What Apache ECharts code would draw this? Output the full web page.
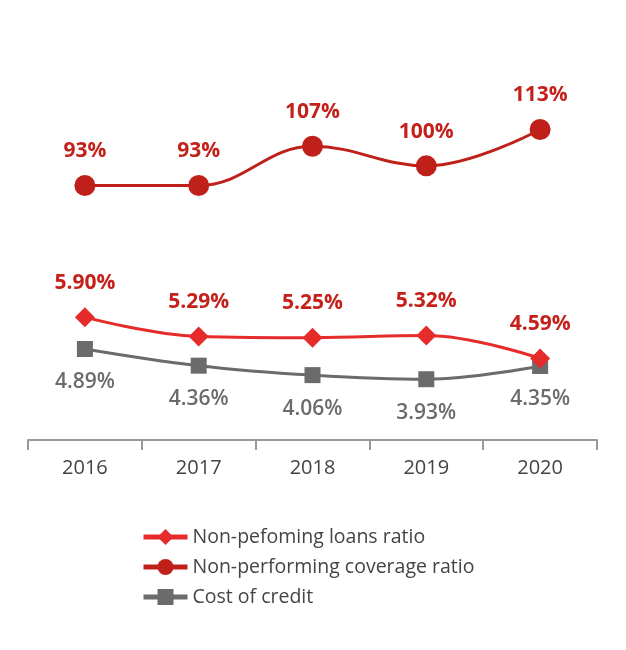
<!DOCTYPE html>
<html>
<head>
<meta charset="utf-8">
<style>html,body{margin:0;padding:0;background:#fff;}#c{width:626px;height:650px;}</style>
<script src="https://cdn.jsdelivr.net/npm/echarts@6/dist/echarts.min.js"></script>
</head>
<body>
<div id="c"></div>
<script>
var categories = ['2016', '2017', '2018', '2019', '2020'];
var nplRatio = [5.90, 5.29, 5.25, 5.32, 4.59];
var coverageRatio = [93, 93, 107, 100, 113];
var costOfCredit = [4.89, 4.36, 4.06, 3.93, 4.35];
var seriesNames = ['Non-pefoming loans ratio', 'Non-performing coverage ratio', 'Cost of credit'];

var FONT = 'Open Sans';
var chart = echarts.init(document.getElementById('c'));
chart.setOption({
  animation: false,
  textStyle: { fontFamily: FONT },
  grid: { left: 28, right: 29, top: 40, bottom: 210 },
  legend: {
    orient: 'vertical',
    left: 136,
    top: 522,
    itemGap: 10,
    itemWidth: 44,
    itemHeight: 20,
    lineStyle: { width: 5 },
    textStyle: { fontSize: 19.5, color: '#444', fontFamily: FONT },
    data: seriesNames
  },
  xAxis: {
    type: 'category',
    data: categories,
    boundaryGap: true,
    axisLine: { lineStyle: { color: '#999', width: 2 } },
    axisTick: { show: true, length: 10, inside: false, lineStyle: { color: '#999', width: 2 } },
    axisLabel: { fontSize: 20, color: '#444', margin: 18, fontFamily: FONT }
  },
  yAxis: [
    { type: 'value', min: 2, max: 14.7, show: false, splitLine: { show: false } },
    { type: 'value', min: 2, max: 145, show: false, splitLine: { show: false } }
  ],
  series: [
    {
      name: seriesNames[0],
      type: 'line',
      yAxisIndex: 0,
      data: nplRatio,
      smooth: 0.4,
      symbol: 'diamond',
      symbolSize: 20,
      z: 3,
      itemStyle: { color: '#e62b2b' },
      lineStyle: { color: '#e62b2b', width: 3 },
      label: {
        show: true, position: 'top', distance: 14,
        fontSize: 21, fontWeight: 'bold', color: '#c4211b', fontFamily: FONT,
        formatter: function (p) { return p.value.toFixed(2) + '%'; }
      }
    },
    {
      name: seriesNames[1],
      type: 'line',
      yAxisIndex: 1,
      data: coverageRatio,
      smooth: 0.4,
      symbol: 'circle',
      symbolSize: 21,
      itemStyle: { color: '#c0201a' },
      lineStyle: { color: '#c0201a', width: 3 },
      label: {
        show: true, position: 'top', distance: 13,
        fontSize: 21, fontWeight: 'bold', color: '#c4211b', fontFamily: FONT,
        formatter: function (p) { return p.value + '%'; }
      }
    },
    {
      name: seriesNames[2],
      type: 'line',
      yAxisIndex: 0,
      data: costOfCredit,
      smooth: 0.4,
      symbol: 'rect',
      symbolSize: 16,
      z: 2,
      itemStyle: { color: '#6b6b6b' },
      lineStyle: { color: '#6b6b6b', width: 3 },
      label: {
        show: true, position: 'bottom', distance: 15,
        fontSize: 21, fontWeight: 600, color: '#6b6b6b', fontFamily: FONT,
        formatter: function (p) { return p.value.toFixed(2) + '%'; }
      }
    }
  ]
});
</script>
</body>
</html>
